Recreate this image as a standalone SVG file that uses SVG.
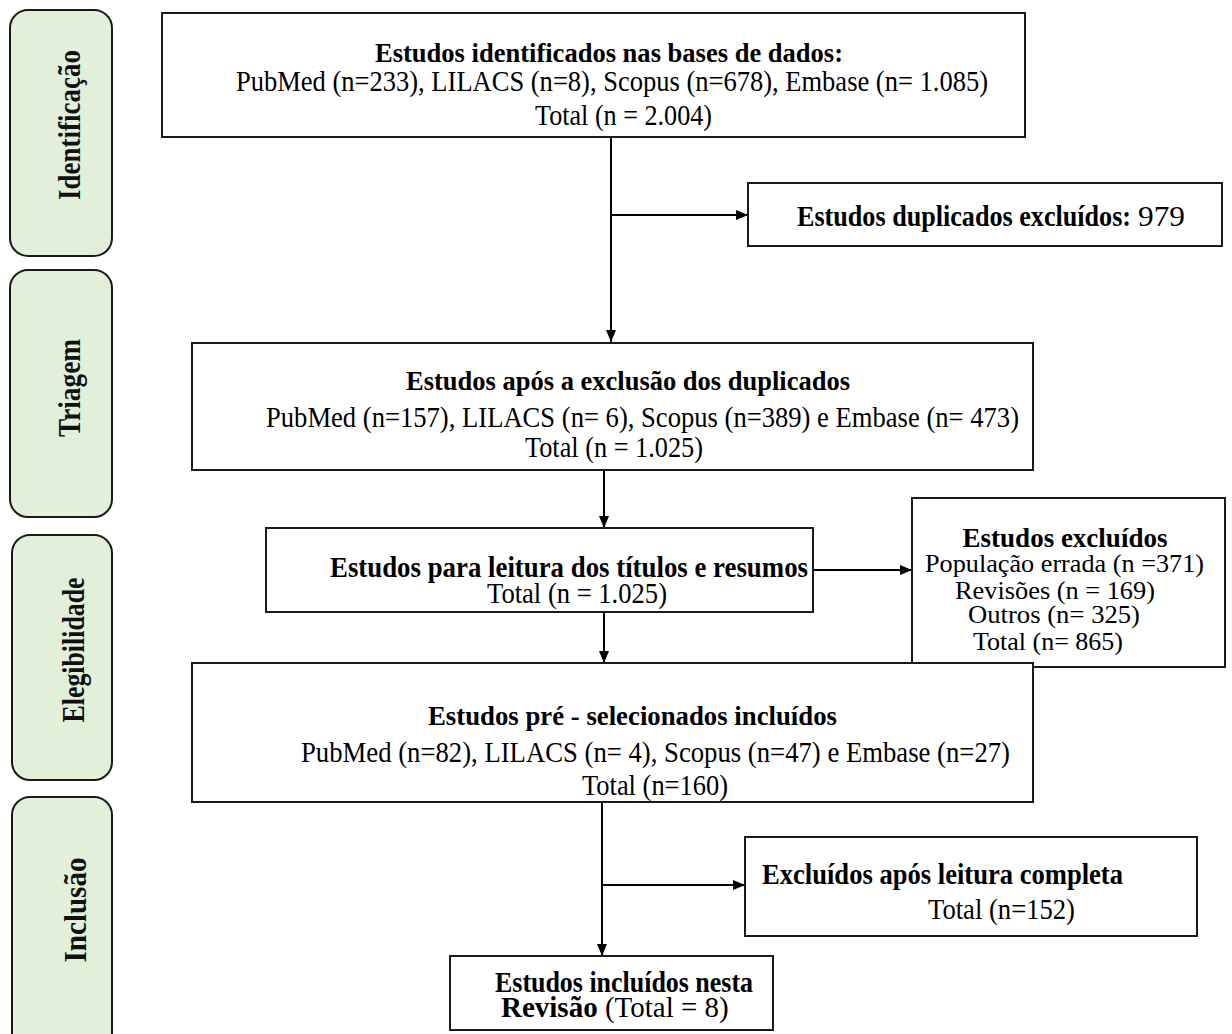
<svg xmlns="http://www.w3.org/2000/svg" width="1232" height="1034" viewBox="0 0 1232 1034">
<style>
.stage{fill:#e2efd9;stroke:#1a1a1a;stroke-width:2}
.box{fill:#fff;stroke:#1a1a1a;stroke-width:2}
.side{font-family:"Liberation Serif","Times New Roman",serif;font-weight:bold;font-size:32px;fill:#111}
.b{font-family:"Liberation Serif","Times New Roman",serif;font-weight:bold;font-size:27px;fill:#000}
.bc{font-family:"Liberation Serif","Times New Roman",serif;font-weight:bold;font-size:29px;fill:#000}
.r{font-family:"Liberation Serif","Times New Roman",serif;font-size:29px;fill:#000}
.rs{font-family:"Liberation Serif","Times New Roman",serif;font-size:26px;fill:#000}
.rw{font-weight:normal}
.conn{stroke:#000;stroke-width:2;fill:none}
</style>
<defs>
<marker id="ah" markerWidth="12" markerHeight="10" refX="12" refY="5" orient="auto" markerUnits="userSpaceOnUse">
<path d="M0,0 L12,5 L0,10 Z" fill="#000"/>
</marker>
<clipPath id="clipExcl"><rect x="912" y="498" width="313" height="157"/></clipPath>
</defs>
<rect width="1232" height="1034" fill="#fff"/>

<g id="stage-identificacao">
<rect class="stage" x="10" y="10" width="102" height="246" rx="18"/>
<text class="side" transform="translate(80,125) rotate(-90)" text-anchor="middle" textLength="150" lengthAdjust="spacingAndGlyphs">Identificação</text>
</g>
<g id="stage-triagem">
<rect class="stage" x="10" y="270" width="102" height="247" rx="18"/>
<text class="side" transform="translate(80,388) rotate(-90)" text-anchor="middle" textLength="98" lengthAdjust="spacingAndGlyphs">Triagem</text>
</g>
<g id="stage-elegibilidade">
<rect class="stage" x="12" y="535" width="100" height="245" rx="18"/>
<text class="side" transform="translate(84,650) rotate(-90)" text-anchor="middle" textLength="145" lengthAdjust="spacingAndGlyphs">Elegibilidade</text>
</g>
<g id="stage-inclusao">
<rect class="stage" x="12" y="797" width="100" height="260" rx="18"/>
<text class="side" transform="translate(86,910) rotate(-90)" text-anchor="middle" textLength="105" lengthAdjust="spacingAndGlyphs">Inclusão</text>
</g>

<g id="connectors">
<line class="conn" x1="611" y1="137" x2="611" y2="342" marker-end="url(#ah)"/>
<line class="conn" x1="611" y1="215" x2="748" y2="215" marker-end="url(#ah)"/>
<line class="conn" x1="604" y1="470" x2="604" y2="528" marker-end="url(#ah)"/>
<line class="conn" x1="813" y1="570" x2="912" y2="570" marker-end="url(#ah)"/>
<line class="conn" x1="604" y1="612" x2="604" y2="663" marker-end="url(#ah)"/>
<line class="conn" x1="602" y1="802" x2="602" y2="956" marker-end="url(#ah)"/>
<line class="conn" x1="602" y1="885" x2="745" y2="885" marker-end="url(#ah)"/>
</g>

<g id="node-identificados">
<rect class="box" x="162" y="13" width="863" height="124"/>
<text class="b" x="375" y="62" textLength="468" lengthAdjust="spacingAndGlyphs">Estudos identificados nas bases de dados:</text>
<text class="r" x="236" y="91" textLength="752" lengthAdjust="spacingAndGlyphs">PubMed (n=233), LILACS (n=8), Scopus (n=678), Embase (n= 1.085)</text>
<text class="r" x="535" y="125" textLength="177" lengthAdjust="spacingAndGlyphs">Total (n = 2.004)</text>
</g>

<g id="node-duplicados">
<rect class="box" x="748" y="183" width="474" height="63"/>
<text class="bc" x="797" y="226" textLength="334" lengthAdjust="spacingAndGlyphs">Estudos duplicados excluídos:</text>
<text class="r" x="1138" y="226" textLength="47" lengthAdjust="spacingAndGlyphs">979</text>
</g>

<g id="node-apos-exclusao">
<rect class="box" x="192" y="343" width="841" height="127"/>
<text class="b" x="406" y="390" textLength="444" lengthAdjust="spacingAndGlyphs">Estudos após a exclusão dos duplicados</text>
<text class="r" x="266" y="427" textLength="753" lengthAdjust="spacingAndGlyphs">PubMed (n=157), LILACS (n= 6), Scopus (n=389) e Embase (n= 473)</text>
<text class="r" x="525" y="457" textLength="178" lengthAdjust="spacingAndGlyphs">Total (n = 1.025)</text>
</g>

<g id="node-titulos-resumos">
<rect class="box" x="266" y="528" width="547" height="84"/>
<text class="bc" x="330" y="577" textLength="478" lengthAdjust="spacingAndGlyphs">Estudos para leitura dos títulos e resumos</text>
<text class="r" x="487" y="603" textLength="180" lengthAdjust="spacingAndGlyphs">Total (n = 1.025)</text>
</g>

<g id="node-excluidos">
<rect class="box" x="912" y="498" width="313" height="169"/>
<g clip-path="url(#clipExcl)">
<text class="b" x="1065" y="547" text-anchor="middle">Estudos excluídos</text>
<text class="rs" x="925" y="572" textLength="279" lengthAdjust="spacingAndGlyphs">População errada (n =371)</text>
<text class="rs" x="955" y="599" textLength="200" lengthAdjust="spacingAndGlyphs">Revisões (n = 169)</text>
<text class="rs" x="968" y="623" textLength="172" lengthAdjust="spacingAndGlyphs">Outros (n= 325)</text>
<text class="rs" x="973" y="650" textLength="150" lengthAdjust="spacingAndGlyphs">Total (n= 865)</text>
</g>
</g>

<g id="node-pre-selecionados">
<rect class="box" x="192" y="663" width="841" height="139"/>
<text class="b" x="428" y="725" textLength="409" lengthAdjust="spacingAndGlyphs">Estudos pré - selecionados incluídos</text>
<text class="r" x="301" y="762" textLength="709" lengthAdjust="spacingAndGlyphs">PubMed (n=82), LILACS (n= 4), Scopus (n=47) e Embase (n=27)</text>
<text class="r" x="582" y="795" textLength="146" lengthAdjust="spacingAndGlyphs">Total (n=160)</text>
</g>

<g id="node-excl-leitura">
<rect class="box" x="745" y="837" width="452" height="99"/>
<text class="bc" x="762" y="884" textLength="361" lengthAdjust="spacingAndGlyphs">Excluídos após leitura completa</text>
<text class="r" x="928" y="919" textLength="147" lengthAdjust="spacingAndGlyphs">Total (n=152)</text>
</g>

<g id="node-incluidos">
<rect class="box" x="450" y="956" width="323" height="74"/>
<text class="bc" x="495" y="992" textLength="258" lengthAdjust="spacingAndGlyphs">Estudos incluídos nesta</text>
<text class="bc" x="501" y="1017">Revisão <tspan class="rw">(Total = 8)</tspan></text>
</g>
</svg>
